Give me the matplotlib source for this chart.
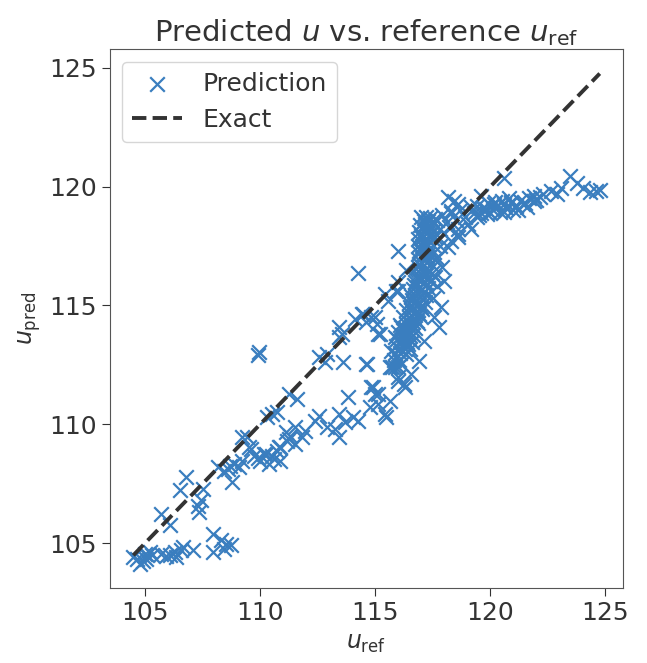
import numpy as np
import matplotlib
matplotlib.use("Agg")
import matplotlib.pyplot as plt
import seaborn as sns

sns.set_style("ticks")
plt.rcParams['font.family'] = ['DejaVu Sans']

# --- data (u_ref, u_pred) ---
u_ref_low = [104.50, 104.78, 104.99, 105.21, 105.07, 104.64, 105.29, 104.90, 105.10,
             105.72, 106.08, 106.29, 106.58, 106.65, 107.08, 106.36, 105.90,
             107.94, 107.94, 108.30, 108.51, 108.73, 108.45,
             105.72, 106.08, 106.51, 106.80, 107.37, 107.44, 107.51, 107.30,
             108.16, 108.59, 108.88, 108.80, 109.09, 109.23, 108.45, 108.70,
             109.45, 109.59, 109.73, 110.02, 110.38, 110.16, 110.52, 110.73, 110.88,
             111.16, 111.31, 111.52, 110.31, 110.73, 110.88, 109.90, 110.60]
u_pred_low = [104.43, 104.15, 104.57, 104.64, 104.36, 104.36, 104.50, 104.25, 104.50,
              104.57, 104.50, 104.64, 104.71, 104.85, 104.71, 104.43, 104.45,
              105.41, 104.64, 105.13, 104.99, 104.92, 104.78,
              106.25, 105.76, 107.23, 107.79, 106.32, 106.81, 107.30, 106.55,
              108.20, 108.13, 108.34, 107.57, 108.20, 108.48, 108.06, 108.25,
              109.46, 108.97, 108.69, 108.48, 108.34, 108.76, 108.69, 108.90, 109.04,
              109.32, 109.53, 109.18, 110.30, 110.51, 108.48, 108.60, 108.55]

u_ref_mid = [109.96, 109.90, 110.53, 111.25, 111.61, 112.54, 112.90, 113.41, 113.55, 113.41,
             113.62, 114.12, 114.41, 114.62, 115.13, 114.62, 113.84, 113.41, 112.54, 112.40,
             112.90, 113.26, 113.41, 113.70, 114.05, 114.27, 114.84, 114.98, 115.13, 115.41,
             115.70, 115.84, 116.13, 115.98, 116.27, 115.84, 116.13, 116.41, 116.56, 111.11,
             111.54, 111.83, 111.25, 110.82, 111.97, 109.24, 109.53, 110.24, 115.41, 114.98,
             112.83, 115.90, 116.00]
u_pred_mid = [113.03, 112.93, 110.44, 111.28, 111.07, 112.82, 112.96, 114.08, 113.80, 113.66,
              112.61, 114.43, 114.64, 114.29, 113.80, 112.54, 111.14, 110.44, 110.37, 110.16,
              109.88, 109.81, 109.46, 110.09, 110.30, 110.16, 111.56, 111.28, 110.86, 110.44,
              113.10, 112.40, 112.54, 111.84, 111.70, 113.66, 114.08, 113.38, 114.22, 109.67,
              109.88, 109.46, 109.39, 109.04, 109.74, 109.46, 109.04, 108.76, 115.48, 114.50,
              112.61, 115.60, 116.00]

u_ref_steep = [115.99, 114.27, 116.35, 115.99, 115.56, 114.48, 114.84, 115.06, 115.20, 114.63,
               115.63, 114.91, 115.13, 114.77, 115.49, 115.63, 116.28, 115.99, 118.15, 118.58,
               118.58, 118.29, 118.00, 117.86, 117.79, 117.57, 117.14, 116.92, 116.56]
u_pred_steep = [117.30, 116.35, 116.50, 115.62, 115.20, 114.64, 114.50, 114.22, 113.80, 112.54,
                112.40, 111.56, 111.28, 110.72, 110.30, 111.00, 111.56, 111.98, 119.54, 119.26,
                118.00, 117.72, 116.04, 114.92, 114.08, 114.50, 113.52, 112.68, 112.12]

# dense band around u_ref ~ 117
u_ref_band = [117.00, 117.20, 117.40, 117.60, 116.95, 117.15, 117.35, 117.55,
              116.90, 117.10, 117.30, 117.50, 116.85, 117.05, 117.25, 117.45,
              116.85, 117.05, 117.25, 117.50, 116.90, 117.10, 117.30, 117.55,
              116.90, 117.10, 117.30, 117.60, 116.85, 117.05, 117.25, 117.50,
              116.80, 117.00, 117.20, 117.45, 116.75, 116.95, 117.15, 117.40,
              116.65, 116.85, 117.05, 117.30, 116.55, 116.75, 116.95, 117.20,
              116.45, 116.65, 116.90, 117.15, 116.35, 116.55, 116.80, 117.05,
              116.20, 116.45, 116.70, 116.95, 116.10, 116.35, 116.60, 116.85,
              116.00, 116.25, 116.50, 115.95, 116.20, 116.45, 115.90, 116.15, 116.40,
              115.85, 116.10, 116.35, 115.80, 116.05, 115.75, 116.00,
              117.10, 117.30, 117.20, 117.00, 117.40, 117.15, 116.95, 117.35,
              117.05, 117.25, 116.90, 117.10, 117.30, 116.80, 117.00, 117.20,
              116.70, 116.90, 117.10, 116.60, 116.80, 117.00, 116.50, 116.70,
              116.90, 116.40, 116.60, 116.80, 116.30, 116.55, 116.75, 116.20,
              116.45, 116.65, 116.15, 116.40, 116.60, 116.10, 116.30, 116.50]
u_pred_band = [118.70, 118.72, 118.68, 118.65, 118.40, 118.42, 118.38, 118.45,
               118.10, 118.12, 118.08, 118.15, 117.80, 117.82, 117.78, 117.85,
               117.50, 117.52, 117.48, 117.55, 117.20, 117.22, 117.18, 117.25,
               116.90, 116.92, 116.88, 116.95, 116.60, 116.62, 116.58, 116.65,
               116.30, 116.32, 116.28, 116.35, 116.00, 116.02, 115.98, 116.05,
               115.70, 115.72, 115.68, 115.75, 115.40, 115.42, 115.38, 115.45,
               115.10, 115.12, 115.08, 115.15, 114.80, 114.82, 114.78, 114.85,
               114.50, 114.52, 114.48, 114.55, 114.20, 114.22, 114.18, 114.25,
               113.90, 113.92, 113.88, 113.60, 113.62, 113.58, 113.30, 113.32, 113.28,
               113.00, 113.02, 112.98, 112.70, 112.72, 112.40, 112.42,
               118.55, 118.55, 118.25, 117.95, 117.95, 117.65, 117.35, 117.35,
               117.05, 117.05, 116.75, 116.45, 116.45, 116.15, 116.15, 115.85,
               115.85, 115.55, 115.55, 115.25, 115.25, 114.95, 114.95, 114.65,
               114.65, 114.35, 114.35, 114.35, 114.05, 114.05, 114.05, 113.75,
               113.75, 113.75, 113.45, 113.45, 113.45, 113.15, 113.15, 113.15]

u_ref_top = [123.46, 123.75, 124.04, 124.33, 124.60, 124.75, 122.91, 122.62, 123.05, 122.17,
             121.88, 120.58, 120.15, 120.58, 118.43, 118.29, 119.15, 119.44, 119.01, 119.15,
             118.58, 118.15, 119.58, 119.87,
             119.70, 119.90, 120.10, 120.30, 120.50, 120.70, 120.90, 121.10, 121.30, 121.50,
             121.70, 121.20, 120.00, 120.80, 121.90, 122.30, 119.60, 120.40, 121.60, 122.00,
             117.70, 117.90, 118.10, 118.30, 118.50, 118.70, 118.90, 117.80, 118.00, 118.20,
             118.60, 117.60, 117.80, 117.70, 117.90, 117.60, 117.70, 117.50,
             119.30, 119.50, 119.80, 120.20, 120.60, 121.00, 121.40, 120.90, 120.20, 119.40]
u_pred_top = [120.45, 120.17, 119.96, 119.75, 119.82, 119.85, 119.68, 119.82, 119.96, 119.54,
              119.40, 120.38, 119.26, 118.91, 119.40, 118.98, 119.12, 118.70, 118.42, 118.21,
              117.86, 117.44, 119.61, 118.84,
              119.10, 119.30, 119.00, 119.20, 119.40, 119.10, 119.30, 119.20, 119.40, 119.30,
              119.50, 119.00, 118.90, 119.50, 119.60, 119.70, 118.90, 118.95, 119.15, 119.45,
              118.60, 118.80, 118.50, 118.90, 118.60, 119.00, 118.70, 118.20, 118.00, 118.30,
              118.20, 117.90, 117.50, 117.00, 116.60, 116.20, 115.80, 115.30,
              118.90, 118.80, 119.05, 119.10, 119.25, 119.00, 119.25, 119.35, 119.35, 119.20]

u_ref = np.array(u_ref_low + u_ref_mid + u_ref_steep + u_ref_band + u_ref_top)
u_pred = np.array(u_pred_low + u_pred_mid + u_pred_steep + u_pred_band + u_pred_top)

fig = plt.figure(figsize=(6.47, 6.63), dpi=100)
ax = fig.add_axes([0.170, 0.113, 0.793, 0.813])

ax.scatter(u_ref, u_pred, marker='x', s=110, linewidths=1.6, color='#3a7ebf', label='Prediction')
lims = [u_ref.min(), u_ref.max()]
ax.plot(lims, lims, '--', color='#333333', linewidth=2.8, label='Exact')

ax.set_title(r'Predicted $u$ vs. reference $u_{\mathrm{ref}}$', fontsize=21, color='#333333')
ax.set_xlabel(r'$u_{\mathrm{ref}}$', fontsize=17, color='#333333')
ax.set_ylabel(r'$u_{\mathrm{pred}}$', fontsize=17, color='#333333')
ax.set_xticks([105, 110, 115, 120, 125])
ax.set_yticks([105, 110, 115, 120, 125])
ax.tick_params(labelsize=18, colors='#333333', length=6)
for s in ax.spines.values():
    s.set_color('#555555')
ax.legend(loc='upper left', fontsize=18, labelcolor='#333333')

fig.savefig('out.png', dpi=100)
